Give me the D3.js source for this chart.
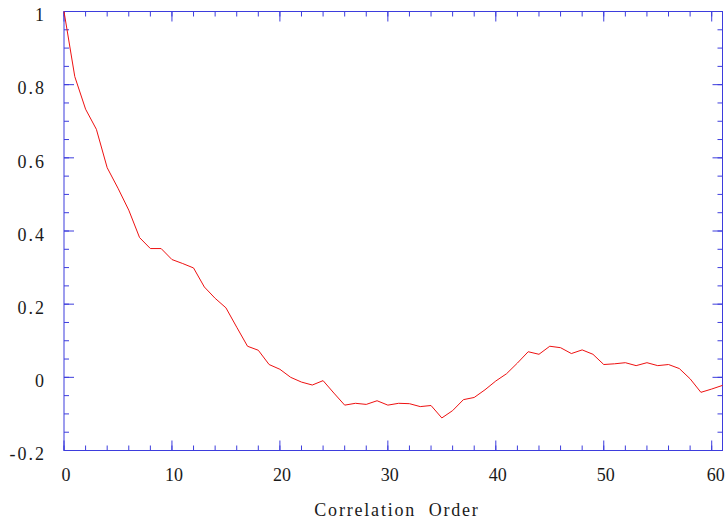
<!DOCTYPE html>
<html>
<head>
<meta charset="utf-8">
<script src="https://cdn.jsdelivr.net/npm/d3@7"></script>
<style>
  html, body { margin: 0; padding: 0; background: #fff; }
  svg { display: block; }
</style>
</head>
<body>
<svg id="chart" width="728" height="523"></svg>
<script>
// Data
const lags = d3.range(0, 62);
const correlation = [
  1.0, 0.822, 0.733, 0.678, 0.573, 0.517, 0.457, 0.382, 0.352, 0.352,
  0.322, 0.311, 0.299, 0.247, 0.216, 0.190, 0.137, 0.085, 0.074, 0.035,
  0.022, 0.0, -0.013, -0.021, -0.009, -0.043, -0.076, -0.071, -0.074, -0.064,
  -0.076, -0.071, -0.072, -0.080, -0.077, -0.111, -0.091, -0.061, -0.055, -0.034,
  -0.010, 0.010, 0.039, 0.070, 0.063, 0.085, 0.081, 0.065, 0.075, 0.063,
  0.035, 0.037, 0.040, 0.032, 0.040, 0.032, 0.035, 0.024, -0.004, -0.041,
  -0.032, -0.022
];
const xMajorTicks = [0, 10, 20, 30, 40, 50, 60];
const xMinorTicks = d3.range(0, 61, 2);
const yMajorTicks = [-0.2, 0, 0.2, 0.4, 0.6, 0.8, 1];
const yMinorTicks = d3.range(-0.2, 1.0001, 0.05);
const yTickLabels = ["-0.2", "0", "0.2", "0.4", "0.6", "0.8", "1"];
const xTitle = "Correlation  Order";

const axisColor = "#3d3ddd";
const lineColor = "#ee1111";
const textColor = "#1a1a1a";
const font = "'Liberation Serif', 'Times New Roman', serif";

const svg = d3.select("#chart");
const plotLeft = 64, plotRight = 722.5, plotTop = 11.5, plotBottom = 450.5;

const x = d3.scaleLinear().domain([0, 61]).range([plotLeft, plotRight]);
const y = d3.scaleLinear().domain([-0.2, 1]).range([plotBottom, plotTop]);

function styleAxis(g) {
  g.select(".domain").remove();
  g.selectAll(".tick line").attr("stroke", axisColor).attr("stroke-width", 1);
}

// Minor ticks (all four sides, pointing inward)
svg.append("g").attr("transform", `translate(0,${plotBottom})`)
  .call(d3.axisBottom(x).tickValues(xMinorTicks).tickSize(-5).tickFormat("").offset(0)).call(styleAxis);
svg.append("g").attr("transform", `translate(0,${plotTop})`)
  .call(d3.axisTop(x).tickValues(xMinorTicks).tickSize(-5).tickFormat("").offset(0)).call(styleAxis);
svg.append("g").attr("transform", `translate(${plotLeft},0)`)
  .call(d3.axisLeft(y).tickValues(yMinorTicks).tickSize(-5).tickFormat("").offset(0)).call(styleAxis);
svg.append("g").attr("transform", `translate(${plotRight},0)`)
  .call(d3.axisRight(y).tickValues(yMinorTicks).tickSize(-5).tickFormat("").offset(0)).call(styleAxis);

// Major ticks
const xb = svg.append("g").attr("transform", `translate(0,${plotBottom})`)
  .call(d3.axisBottom(x).tickValues(xMajorTicks).tickSize(-10).tickPadding(0).tickFormat(d3.format("d")).offset(0))
  .call(styleAxis);
xb.selectAll(".tick text")
  .attr("fill", textColor).attr("font-family", font).attr("font-size", 18)
  .attr("dy", null).attr("y", 30).attr("dx", (d) => d === 60 ? 4 : 2);

svg.append("g").attr("transform", `translate(0,${plotTop})`)
  .call(d3.axisTop(x).tickValues(xMajorTicks).tickSize(-10).tickFormat("").offset(0)).call(styleAxis);

const yl = svg.append("g").attr("transform", `translate(${plotLeft},0)`)
  .call(d3.axisLeft(y).tickValues(yMajorTicks).tickSize(-10).tickPadding(18)
    .tickFormat((d, i) => yTickLabels[i]).offset(0))
  .call(styleAxis);
yl.selectAll(".tick text")
  .attr("fill", textColor).attr("font-family", font).attr("font-size", 18)
  .attr("letter-spacing", "2px")
  .attr("dy", null).attr("y", 9.7);

svg.append("g").attr("transform", `translate(${plotRight},0)`)
  .call(d3.axisRight(y).tickValues(yMajorTicks).tickSize(-10).tickFormat("").offset(0)).call(styleAxis);

// Frame
svg.append("rect")
  .attr("x", plotLeft).attr("y", plotTop)
  .attr("width", plotRight - plotLeft).attr("height", plotBottom - plotTop)
  .attr("fill", "none").attr("stroke", axisColor).attr("stroke-width", 1);

// Line
const line = d3.line().x((d, i) => x(lags[i])).y((d) => y(d));
svg.append("path")
  .datum(correlation)
  .attr("d", line)
  .attr("fill", "none")
  .attr("stroke", lineColor)
  .attr("stroke-width", 1);

// Axis title
svg.append("text")
  .attr("x", 397).attr("y", 516)
  .attr("text-anchor", "middle")
  .attr("font-family", font).attr("font-size", 18)
  .attr("letter-spacing", "1.8px")
  .attr("fill", textColor)
  .style("white-space", "pre")
  .text(xTitle);
</script>
</body>
</html>
